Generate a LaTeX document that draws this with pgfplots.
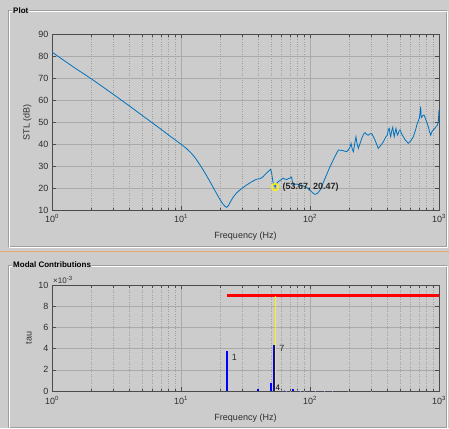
\documentclass[border=0pt]{standalone}
\usepackage{pgfplots}
\pgfplotsset{compat=1.18}
\usepackage{fontspec}
\setmainfont{Liberation Sans}
\definecolor{bg}{RGB}{204,204,204}
\definecolor{mblue}{RGB}{0,114,189}
\definecolor{gridc}{RGB}{170,170,170}
\definecolor{mgridc}{RGB}{160,160,160}
\definecolor{axc}{RGB}{75,75,75}
\definecolor{etchd}{RGB}{158,158,158}
\definecolor{sep}{RGB}{232,168,110}
\definecolor{txt}{RGB}{45,45,45}

\begin{document}
\begin{tikzpicture}
\useasboundingbox (0,0) rectangle (449pt,-428pt);
\fill[bg] (0,0) rectangle (449pt,-428pt);
% panel 1
\draw[etchd, line width=0.7pt] (8pt,-10pt) rectangle (446pt,-246pt);
\draw[white, line width=0.5pt] (9pt,-11pt) rectangle (447pt,-247pt);
\node[fill=bg, inner sep=1pt, anchor=west, font=\fontsize{8}{9}\selectfont\bfseries] at (12pt,-10.5pt) {Plot};
% separator
\draw[sep, line width=1pt] (0,-251pt) -- (449pt,-251pt);
% panel 2
\draw[etchd, line width=0.7pt] (8pt,-265pt) rectangle (446pt,-427pt);
\draw[white, line width=0.5pt] (9pt,-266pt) rectangle (447pt,-428pt);
\node[fill=bg, inner sep=1pt, anchor=west, font=\fontsize{8}{9}\selectfont\bfseries] at (12pt,-265pt) {Modal Contributions};

\begin{axis}[scale only axis, width=387pt, height=176pt,
    at={(52pt,-210pt)}, anchor=south west,
    xmode=log, xmin=1, xmax=1000,
    axis background/.style={fill=bg},
    axis line style={axc, line width=0.8pt},
    tick style={axc, line width=0.5pt},
    tick pos=both, tick align=inside,
    major tick length=4pt, minor tick length=2.5pt,
    grid=both,
    major grid style={gridc, solid, line width=0.5pt},
    minor grid style={mgridc, dotted, line width=0.45pt},
    xtick={1,10,100,1000},
    xticklabels={10\textsuperscript{0},10\textsuperscript{1},10\textsuperscript{2},10\textsuperscript{3}},
    minor xtick={2,3,4,5,6,7,8,9,20,30,40,50,60,70,80,90,200,300,400,500,600,700,800,900},
    tick label style={font=\fontsize{9}{10}\selectfont, text=txt},
    xticklabel style={yshift=-1pt},
    label style={font=\fontsize{9}{10}\selectfont, text=txt},
    xlabel style={yshift=-2.5pt},
    /pgf/number format/assume math mode=true,
    xlabel={Frequency (Hz)},
  ymin=10, ymax=90, ytick={10,20,...,90},
  ylabel={STL (dB)}]
\addplot[mblue, line width=0.8pt] coordinates {
(1,81.8) (1.25,77.8) (1.5,74.6) (2,69.8) (2.5,65.8) (3,62.5) (4,57.2) (5,53) (6,49.6)
(7,46.7) (8,44.1) (9,41.9) (10,39.9) (11,38) (12,35.9) (13,33.4) (14,30.6) (15,27.8)
(16,25) (17,22.3) (18,19.6) (19,17.2) (20,14.9) (21,12.9) (22,11.6) (22.6,11.2)
(23.3,12) (24.3,14) (25.4,15.9) (27,17.8) (29,19.4) (32.3,21.4) (36,23.1) (38.6,24)
(41,24.2) (43,25) (46,26.8) (49.6,28.5) (50.5,26.5) (51.5,23) (52.5,21.2)
(53.67,20.47) (55,22) (56.8,22.9) (60,23.8) (62,24.5) (64,24) (66,23.8) (68,24.3)
(70,24.5) (72,25) (73,23) (74,21.5) (78,21.8) (83.6,21.4) (88,21) (94,20.3)
(100,19) (105,17.8) (109,17.1) (114,17.5) (119.6,19) (130,24) (143,29.7) (155,34)
(166,37.3) (180,37) (192,36.5) (198,37.3) (204,38.5) (208,40.3) (213,37.5) (217,36.5)
(222,40) (227,43.3) (232,40) (237,38) (245,40.5) (252,42.6) (260,44.5) (267,45.2)
(275,44.3) (283,44) (292,44.6) (301,44.8) (318,42) (338,38) (355,39.5) (370,41)
(385,43) (397,44) (405,46.5) (412,47.1) (417,44.5) (422,43.3) (430,46) (438,47.6)
(444,45) (450,43.3) (457,45.5) (464,47.1) (471,45) (478,44) (489,45.8) (499,46.4)
(514,44.5) (545,42) (578,40.3) (605,41.5) (632,43.3) (655,46) (679,49.4)
(704,51.7) (712,54) (721,57) (728,52) (738,52.4) (750,53) (765,53.2) (793,50.9) (826,47.9)
(845,45.5) (862,44) (880,45.5) (903,46.4) (925,47) (948,47.9) (970,48.5) (988,50.2) (1000,55.5)
};
\addplot[only marks, mark=o, mark size=3.4pt, yellow, line width=1.4pt] coordinates {(53.67,20.47)};
\node[anchor=west, font=\fontsize{9}{10}\selectfont\bfseries, text=black!85] at (axis cs:57.5,20.2) {(53.67, 20.47)};
\end{axis}

\begin{axis}[name=ax2, scale only axis, width=387pt, height=106pt,
    at={(52pt,-391pt)}, anchor=south west,
    xmode=log, xmin=1, xmax=1000,
    axis background/.style={fill=bg},
    axis line style={axc, line width=0.8pt},
    tick style={axc, line width=0.5pt},
    tick pos=both, tick align=inside,
    major tick length=4pt, minor tick length=2.5pt,
    grid=both,
    major grid style={gridc, solid, line width=0.5pt},
    minor grid style={mgridc, dotted, line width=0.45pt},
    xtick={1,10,100,1000},
    xticklabels={10\textsuperscript{0},10\textsuperscript{1},10\textsuperscript{2},10\textsuperscript{3}},
    minor xtick={2,3,4,5,6,7,8,9,20,30,40,50,60,70,80,90,200,300,400,500,600,700,800,900},
    tick label style={font=\fontsize{9}{10}\selectfont, text=txt},
    xticklabel style={yshift=-2pt},
    label style={font=\fontsize{9}{10}\selectfont, text=txt},
    xlabel style={yshift=-2.5pt},
    /pgf/number format/assume math mode=true,
    xlabel={Frequency (Hz)},
  ymin=0, ymax=10, ytick={0,2,...,10},
  ylabel={tau}]
\addplot[ycomb, blue!35!bg, line width=1pt] coordinates {
(60,0.06) (63,0.05) (66,0.04) (70,0.04) (80,0.05) (85,0.04) (90,0.03) (110,0.03) (130,0.03) (150,0.03) (200,0.03) (300,0.02)};
\addplot[ycomb, blue, line width=1.8pt] coordinates {
(22.6,3.78) (39.3,0.15) (49.6,0.78) (52.9,4.38) (74.3,0.15)};
\addplot[red, line width=2.5pt] coordinates {(22.6,9) (1000,9)};
\addplot[yellow, line width=0.8pt] coordinates {(53.67,0) (53.67,9)};
\node[anchor=west, font=\fontsize{9}{10}\selectfont, text=txt] at (axis cs:23.3,3.2) {1};
\node[anchor=west, font=\fontsize{9}{10}\selectfont, text=txt] at (axis cs:54.3,4.0) {7};
\node[anchor=west, font=\fontsize{8}{9}\selectfont, text=black, inner sep=0.5pt] at (axis cs:53.5,0.3) {4};
\end{axis}
\node[anchor=south west, font=\fontsize{8}{9}\selectfont, text=txt, inner sep=1pt] at (ax2.north west) {×10\textsuperscript{-3}};
\end{tikzpicture}
\end{document}
